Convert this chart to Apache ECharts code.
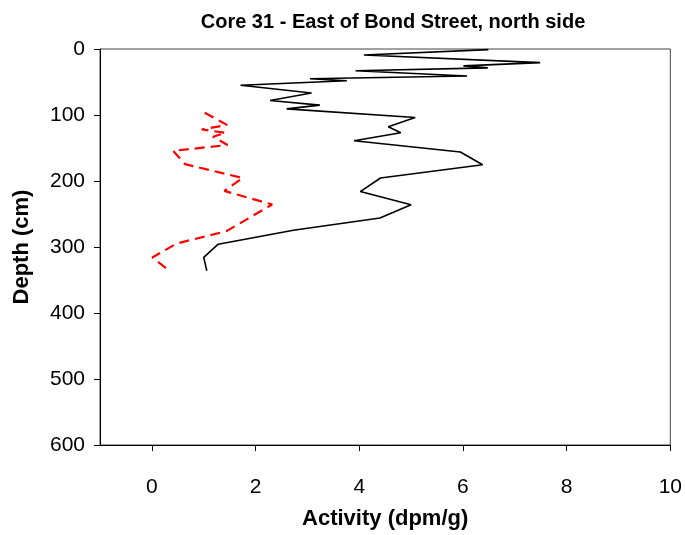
<!DOCTYPE html>
<html><head><meta charset="utf-8">
<script src="https://cdn.jsdelivr.net/npm/echarts@6/dist/echarts.min.js"></script>
<style>html,body{margin:0;padding:0;background:#fff}#c{width:685px;height:535px}</style>
</head><body><div id="c"></div>
<script>
const title = 'Core 31 - East of Bond Street, north side';
const xTicks = [0, 2, 4, 6, 8, 10];
const blackActivity = [6.49, 4.09, 7.49, 6.01, 6.48, 3.93, 6.08, 3.05, 3.76, 1.71, 3.08, 2.28, 3.24, 2.60, 5.08, 4.56, 4.80, 3.90, 5.95, 6.38, 4.41, 4.02, 5.00, 4.40, 2.73, 1.28, 1.00, 1.06];
const blackDepth =    [1, 9, 20.6, 25.6, 28.6, 33, 41, 45, 48, 55, 66.7, 78, 85, 90.7, 103.8, 117.8, 127, 139, 156, 175.4, 195.5, 216, 236, 256, 274.7, 295.7, 315.8, 336];
const redActivity = [1.02, 1.45, 0.96, 1.42, 1.18, 1.46, 0.41, 0.64, 1.75, 1.40, 2.32, 1.44, 0.48, 0.01, 0.32];
const redDepth =    [96.7, 115, 122, 127, 133, 145.4, 154.4, 174.4, 195.5, 215, 235.6, 276, 294.7, 315.8, 334.8];

const zip = (a, b) => a.map((v, i) => [v, b[i]]);
const chart = echarts.init(document.getElementById('c'), null, {renderer: 'canvas'});
const font = 'Liberation Sans, Arial, sans-serif';
chart.setOption({
  animation: false,
  title: {text: title, left: 388, textAlign: 'center', top: 7,
    textStyle: {fontFamily: font, fontSize: 20, fontWeight: 'bold', color: '#000'}},
  grid: {left: 100, right: 13, top: 49, bottom: 86, show: true, borderColor: '#444', borderWidth: 1},
  xAxis: {type: 'value', min: -1, max: 10,
    name: 'Activity (dpm/g)', nameLocation: 'middle', nameGap: 63,
    nameTextStyle: {fontFamily: font, fontSize: 22, fontWeight: 'bold', color: '#000'},
    axisLine: {show: true, onZero: false, lineStyle: {color: '#000', width: 1}},
    axisTick: {show: true, inside: false, length: 6, customValues: xTicks, lineStyle: {color: '#000'}},
    axisLabel: {customValues: xTicks, fontFamily: font, fontSize: 21, color: '#000', margin: 32},
    splitLine: {show: false}},
  yAxis: {type: 'value', inverse: true, min: 0, max: 600, interval: 100,
    name: 'Depth (cm)', nameLocation: 'middle', nameGap: 67, nameRotate: 90,
    nameTextStyle: {fontFamily: font, fontSize: 22, fontWeight: 'bold', color: '#000'},
    axisLine: {show: true, onZero: false, lineStyle: {color: '#000', width: 1}},
    axisTick: {show: true, inside: false, length: 6, lineStyle: {color: '#000'}},
    axisLabel: {fontFamily: font, fontSize: 21, color: '#000', margin: 15},
    splitLine: {show: false}},
  series: [
    {type: 'line', data: zip(blackActivity, blackDepth), showSymbol: false, symbol: 'none',
      lineStyle: {color: '#000', width: 1.6}},
    {type: 'line', data: zip(redActivity, redDepth), showSymbol: false, symbol: 'none',
      lineStyle: {color: '#ff0000', width: 2.2, type: [10, 6]}}
  ]
});
</script></body></html>
